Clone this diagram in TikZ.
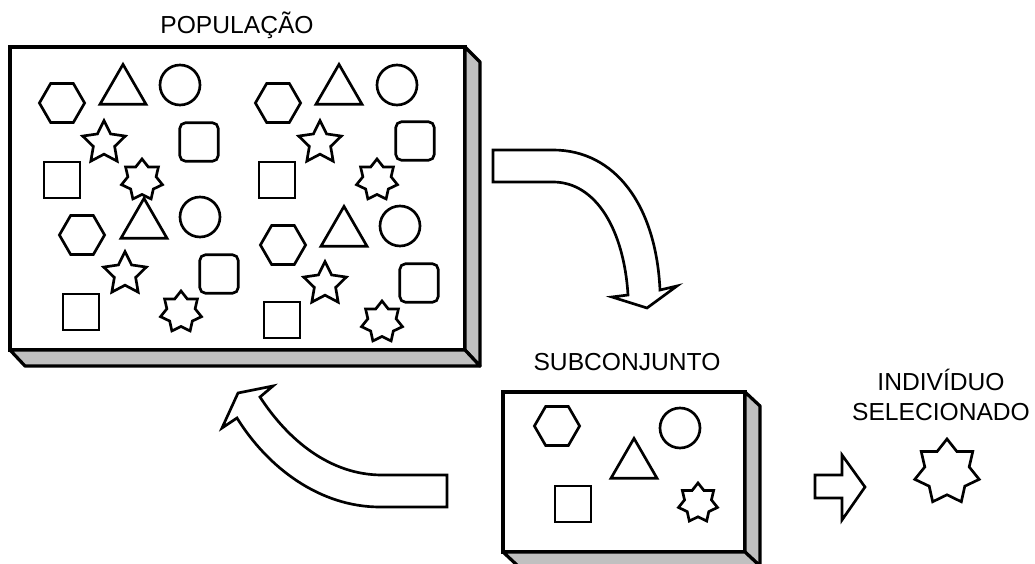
\documentclass[tikz,border=0pt]{standalone}
\usepackage{fontspec}
\setmainfont{Liberation Sans}
\usetikzlibrary{shapes.geometric}

\definecolor{slab}{RGB}{192,192,192}
\tikzset{
	fig/.style={draw, line width=1.9pt, inner sep=0pt, fill=white},
	hexa/.style={fig, regular polygon, regular polygon sides=6, minimum size=1.13cm},
	tri/.style={fig, regular polygon, regular polygon sides=3, minimum size=1.33cm},
	circ/.style={fig, circle, minimum size=1cm},
	sq/.style={fig, rectangle, minimum size=0.9cm},
	rsq/.style={fig, rectangle, rounded corners=4pt, minimum size=0.96cm},
	starfive/.style={fig, star, star points=5, star point ratio=2.0, minimum size=1.12cm},
	starseven/.style={fig, star, star points=7, star point ratio=1.45, minimum size=1.05cm},
	label/.style={font=\fontsize{17.5}{21}\selectfont, inner sep=0pt},
	block/.style={draw, line width=1.9pt, fill=white, line join=miter}
}

\begin{document}
\begin{tikzpicture}[x=0.025cm, y=-0.025cm]
	\useasboundingbox (0,0) rectangle (1035,564);
	\clip (0,0) rectangle (1035,564);
	% Boxes
	\draw[line width=2.3pt, fill=white] (10,47) rectangle (465,350);
	\draw[line width=2.3pt, fill=slab, line join=round] (465,47) -- (480,62) -- (480,366) -- (465,350) -- cycle;
	\draw[line width=2.3pt, fill=slab, line join=round] (10,350) -- (25,366) -- (480,366) -- (465,350) -- cycle;
	\draw[line width=2.3pt, fill=white] (503,392) rectangle (745,552);
	\draw[line width=2.3pt, fill=slab, line join=round] (745,392) -- (760,406) -- (760,566) -- (745,552) -- cycle;
	\draw[line width=2.3pt, fill=slab, line join=round] (503,552) -- (518,566) -- (760,566) -- (745,552) -- cycle;
	% Population, top left
	\node[hexa] (hexA) at (62,103) {};
	\node[tri] (triA) at (123,91) {};
	\node[circ] (circA) at (180,85) {};
	\node[starfive] (starA) at (104,143) {};
	\node[rsq] (rsqA) at (199,142) {};
	\node[sq] (sqA) at (62,180) {};
	\node[starseven] (sevA) at (142,180) {};
	% Population, bottom left
	\node[hexa] (hexB) at (82,235) {};
	\node[tri] (triB) at (144,225) {};
	\node[circ] (circB) at (200,217) {};
	\node[starfive] (starB) at (125,274) {};
	\node[rsq] (rsqB) at (219,274) {};
	\node[sq] (sqB) at (81,312) {};
	\node[starseven] (sevB) at (181,312) {};
	% Population, top right
	\node[hexa] (hexC) at (278,103) {};
	\node[tri] (triC) at (339,91) {};
	\node[circ] (circC) at (397,85) {};
	\node[starfive] (starC) at (320,143) {};
	\node[rsq] (rsqC) at (415,141) {};
	\node[sq] (sqC) at (277,180) {};
	\node[starseven] (sevC) at (377,180) {};
	% Population, bottom right
	\node[hexa] (hexD) at (283,245) {};
	\node[tri] (triD) at (344,233) {};
	\node[circ] (circD) at (400,226) {};
	\node[starfive] (starD) at (325,284) {};
	\node[rsq] (rsqD) at (419,283) {};
	\node[sq] (sqD) at (282,320) {};
	\node[starseven] (sevD) at (382,322) {};
	% Subset
	\node[hexa] (hexE) at (557,426) {};
	\node[circ] (circE) at (680,428) {};
	\node[tri] (triE) at (634,465) {};
	\node[sq] (sqE) at (573,504) {};
	\node[starseven, minimum size=1cm] (sevE) at (698,503) {};
	% Selected
	\node[starseven, minimum size=1.65cm] (sevF) at (947,472) {};
	% Arrows
	\draw[block] (493,150) -- (553,150) .. controls (615,150) and (656,205) .. (660,290)
		-- (677,286) -- (647,308) -- (612,297) -- (628,295)
		.. controls (624,230) and (596,182) .. (553,182) -- (493,182) -- cycle;
	\draw[block] (447,475) -- (382,475) .. controls (330,475) and (288,440) .. (260,397)
		-- (273,386) -- (238,393) -- (222,428) -- (237,418)
		.. controls (268,468) and (320,507) .. (380,507) -- (447,507) -- cycle;
	\draw[block] (815,475) -- (842,475) -- (842,455) -- (865,487) -- (842,520) -- (842,498) -- (815,498) -- cycle;
	% Labels
	\node[label] (pop) at (237,25) {POPULAÇÃO};
	\node[label] (sub) at (627,362) {SUBCONJUNTO};
	\node[label, align=center] (ind) at (941,395) {INDIVÍDUO\\SELECIONADO};
\end{tikzpicture}
\end{document}
